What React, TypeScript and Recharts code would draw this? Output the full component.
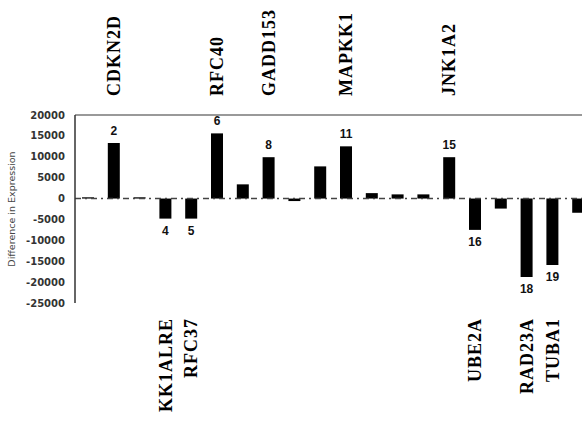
import { BarChart, Bar, XAxis, YAxis, ReferenceLine, LabelList, Label } from 'recharts';

const values = [
  300, 13300, 300, -4800, -4800, 15600, 3400, 9900, -600, 7700,
  12500, 1300, 1000, 1000, 9900, -7500, -2400, -18800, -15900, -3400,
];

const genes = [
  '', 'CDKN2D', '', 'KK1ALRE', 'RFC37', 'RFC40', '', 'GADD153', '', '',
  'MAPKK1', '', '', '', 'JNK1A2', 'UBE2A', '', 'RAD23A', 'TUBA1', '',
];

const numbered = [2, 4, 5, 6, 8, 11, 15, 16, 18, 19];

const yTicks = [20000, 15000, 10000, 5000, 0, -5000, -10000, -15000, -20000, -25000];

const data = values.map((v, i) => ({
  id: i + 1,
  value: v,
  gene: genes[i],
  num: numbered.includes(i + 1) ? String(i + 1) : '',
}));

function NumLabel(props: any) {
  const { x, y, width, height, value } = props;
  if (!value) return null;
  const top = Math.min(y, y + height);
  const bottom = Math.max(y, y + height);
  const neg = data[Number(value) - 1].value < 0;
  return (
    <text
      x={x + width / 2}
      y={neg ? bottom + 16 : top - 8}
      textAnchor="middle"
      fontFamily="Liberation Sans, Arial, sans-serif"
      fontWeight="bold"
      fontSize={12}
      fill="#111"
    >
      {value}
    </text>
  );
}

function GeneLabel(props: any) {
  const { x, width, value, index } = props;
  if (!value) return null;
  const cx = x + width / 2;
  const neg = data[index].value < 0;
  const y = neg ? 318 : 96;
  return (
    <text
      x={cx}
      y={y}
      dy="0.35em"
      textAnchor={neg ? 'end' : 'start'}
      transform={`rotate(-90, ${cx}, ${y})`}
      fontFamily="Liberation Serif, Times New Roman, serif"
      fontWeight="bold"
      fontSize={18}
      letterSpacing={1}
      fill="#000"
    >
      {value}
    </text>
  );
}

export default function App() {
  return (
    <div
      style={{
        position: 'fixed',
        top: 0,
        left: 0,
        width: 582,
        height: 425,
        overflow: 'hidden',
        background: '#fff',
      }}
    >
      <BarChart
        width={600}
        height={425}
        data={data}
        margin={{ top: 115, right: 9, left: 0, bottom: 122 }}
        barSize={12}
      >
        <XAxis
          dataKey="id"
          height={0}
          tick={false}
          tickLine={false}
          axisLine={{ stroke: '#888', strokeWidth: 2.5 }}
        >
          <Label
            value="Different Genes"
            position="bottom"
            offset={14}
            style={{ fontFamily: 'DejaVu Sans', fontSize: 9.5, fill: '#444' }}
          />
        </XAxis>
        <YAxis
          width={75}
          domain={[-25000, 20000]}
          ticks={yTicks}
          interval={0}
          tickLine={false}
          tickSize={4}
          tickMargin={6}
          axisLine={{ stroke: '#333', strokeWidth: 1.5 }}
          tick={{ fontFamily: 'DejaVu Sans', fontWeight: 'bold', fontSize: 10, fill: '#333' }}
        >
          <Label
            value="Difference in Expression"
            angle={-90}
            position="insideLeft"
            offset={12}
            style={{ fontFamily: 'DejaVu Sans', fontSize: 9.5, fill: '#444', textAnchor: 'middle' }}
          />
        </YAxis>
        <ReferenceLine y={20000} stroke="#999" strokeWidth={2} />
        <ReferenceLine y={0} stroke="#444" strokeWidth={1.5} strokeDasharray="6 4 2 4" />
        <Bar dataKey="value" fill="#000" isAnimationActive={false}>
          <LabelList dataKey="num" content={NumLabel} />
          <LabelList dataKey="gene" content={GeneLabel} />
        </Bar>
      </BarChart>
    </div>
  );
}
